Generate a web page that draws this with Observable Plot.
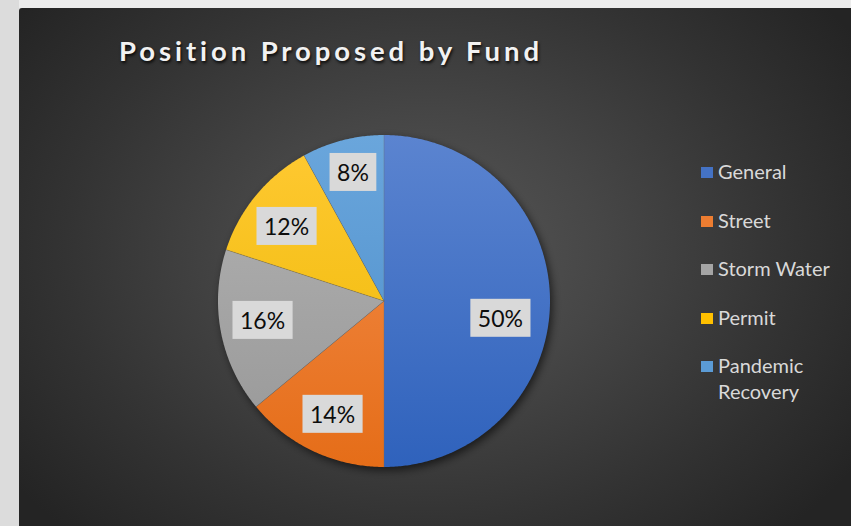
<!DOCTYPE html>
<html>
<head>
<meta charset="utf-8">
<script src="https://cdn.jsdelivr.net/npm/d3@7"></script>
<script src="https://cdn.jsdelivr.net/npm/@observablehq/plot@0.6"></script>
<style>
  html, body { margin: 0; padding: 0; background: #dcdcdc; }
  #wrap { position: relative; width: 851px; height: 526px; overflow: hidden; background: #dcdcdc; }
  #topstrip { position: absolute; left: 19px; top: 0; right: 0; height: 8px; background: #ececec; }
  #panel { position: absolute; left: 19px; top: 8px; right: 0; bottom: 0;
    background: radial-gradient(ellipse 62% 75% at 49% 47%, #575757 0%, #464646 35%, #333333 70%, #242424 100%);
    border-top-left-radius: 3px; }
  #chart { position: absolute; left: 0; top: 0; }
  #chart svg { background: transparent !important; }
  #title { position: absolute; left: 0; width: 662px; top: 34px; text-align: center; white-space: nowrap;
    font-family: Lato, sans-serif; font-weight: 700; font-size: 27.5px; letter-spacing: 3.9px;
    color: #f2f2f2; text-shadow: 1px 2px 3px rgba(0,0,0,0.85); }
  #legend { position: absolute; left: 701px; top: 158px; font-family: Lato, sans-serif; font-size: 20px; color: #d9d9d9; }
  .item { position: relative; height: 48.5px; white-space: nowrap; }
  .sw { position: absolute; left: 0; top: 9px; width: 12px; height: 11px; }
  .lab { position: absolute; left: 17px; top: 0; line-height: 26px; }
</style>
</head>
<body>
<div id="wrap">
  <div id="topstrip"></div>
  <div id="panel"></div>
  <div id="chart"></div>
  <div id="title"></div>
  <div id="legend"></div>
</div>
<script>
const title = "Position Proposed by Fund";
const categories = ["General", "Street", "Storm Water", "Permit", "Pandemic Recovery"];
const values = [50, 14, 16, 12, 8];
const colors = ["#4472C4", "#ED7D31", "#A5A5A5", "#FFC000", "#5B9BD5"];
const gradTop = ["#5b84d0", "#f48f4f", "#b3b3b3", "#ffc933", "#6aa6dc"];
const gradBottom = ["#2f62bc", "#e56d18", "#979797", "#ecb800", "#4a8cc9"];
const labelText = ["50%", "14%", "16%", "12%", "8%"];

const W = 851, H = 526;
const cx = 383.5, cy = 300.5, R = 166;

// pie geometry from data
const arcs = d3.pie().sort(null).value(d => d.value)(
  categories.map((c, i) => ({category: c, value: values[i], i}))
);
const slices = [];
for (const a of arcs) {
  const steps = Math.max(2, Math.ceil((a.endAngle - a.startAngle) / 0.01));
  const f = `url(#g${a.data.i})`;
  slices.push({category: a.data.category, fill: f, x: 0, y: 0});
  for (let k = 0; k <= steps; k++) {
    const t = a.startAngle + (a.endAngle - a.startAngle) * k / steps;
    slices.push({category: a.data.category, fill: f, x: Math.sin(t), y: Math.cos(t)});
  }
  slices.push({category: a.data.category, fill: f, x: 0, y: 0});
}
// label placement (radius fraction, angle nudge in degrees)
const labelR = [0.71, 0.756, 0.742, 0.735, 0.79];
const labelNudge = [9, -1, 1.2, -2.6, 0.7];
const labels = arcs.map((a, j) => {
  const m = (a.startAngle + a.endAngle) / 2 + labelNudge[j] * Math.PI / 180;
  return {text: labelText[j], x: labelR[j] * Math.sin(m), y: labelR[j] * Math.cos(m)};
});
const edges = arcs.map(a => [{x: 0, y: 0, e: a.startAngle}, {x: Math.sin(a.startAngle), y: Math.cos(a.startAngle), e: a.startAngle}]).flat();

const plot = Plot.plot({
  width: W, height: H,
  margin: 0,
  style: {background: "transparent", overflow: "visible"},
  x: {domain: [-cx / R, (W - cx) / R], range: [0, W], axis: null},
  y: {domain: [-(H - cy) / R, cy / R], range: [H, 0], axis: null},
  color: {type: "identity"},
  marks: [
    Plot.dot([0], {x: 0.015, y: -0.02, r: R, fill: "black", fillOpacity: 0.6}),
    Plot.line(slices, {x: "x", y: "y", z: "category", fill: "fill", stroke: "none", curve: "linear"}),
    Plot.line(edges, {x: "x", y: "y", z: "e", stroke: "#6b6b6b", strokeWidth: 0.6, strokeOpacity: 0.6}),
    Plot.text(labels, {x: "x", y: "y", text: "text", fill: "#0d0d0d", fontSize: 23, fontFamily: "Lato, sans-serif"})
  ]
});
document.getElementById("chart").appendChild(plot);

const svg = d3.select(plot);
const defs = svg.insert("defs", ":first-child");
colors.forEach((c, i) => {
  const g = defs.append("linearGradient").attr("id", "g" + i)
    .attr("gradientUnits", "userSpaceOnUse")
    .attr("x1", 0).attr("x2", 0).attr("y1", cy - R).attr("y2", cy + R);
  g.append("stop").attr("offset", "0%").attr("stop-color", gradTop[i]);
  g.append("stop").attr("offset", "100%").attr("stop-color", gradBottom[i]);
});
defs.append("filter").attr("id", "blur").attr("x", "-20%").attr("y", "-20%").attr("width", "140%").attr("height", "140%")
  .append("feGaussianBlur").attr("stdDeviation", 4);
svg.selectAll("circle").attr("filter", "url(#blur)");

// label boxes (placed in each text's own coordinate frame)
svg.selectAll("text").each(function() {
  const b = this.getBBox();
  const padX = 7.5, h = 38;
  const r = document.createElementNS("http://www.w3.org/2000/svg", "rect");
  r.setAttribute("x", b.x - padX);
  r.setAttribute("y", b.y + b.height / 2 - h / 2);
  r.setAttribute("width", b.width + 2 * padX);
  r.setAttribute("height", h);
  r.setAttribute("fill", "#d9d9d9");
  const tr = this.getAttribute("transform");
  if (tr) r.setAttribute("transform", tr);
  this.parentNode.insertBefore(r, this);
});

document.getElementById("title").textContent = title;
const leg = d3.select("#legend");
categories.forEach((c, i) => {
  const it = leg.append("div").attr("class", "item");
  it.append("div").attr("class", "sw").style("background", colors[i]);
  it.append("div").attr("class", "lab").html(c === "Pandemic Recovery" ? "Pandemic<br>Recovery" : c);
});
</script>
</body>
</html>
